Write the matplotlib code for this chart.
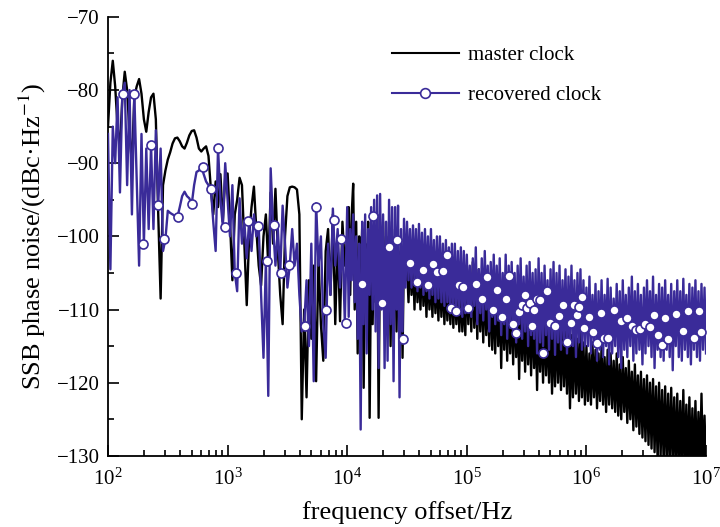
import matplotlib
matplotlib.use("Agg")
import numpy as np
from matplotlib import pyplot as plt
from matplotlib.lines import Line2D
from matplotlib.ticker import MultipleLocator

plt.rcParams["font.family"] = ["Liberation Serif", "DejaVu Serif"]
plt.rcParams["mathtext.fontset"] = "stix"

BLUE = "#3a2b99"

# SSB phase noise (dBc/Hz), one list per decade of offset
master_1e2 = [-85, -79, -76, -79.5, -85, -88, -81, -77.5, -80, -86,
              -90, -81, -79.5, -78.5, -80.5, -84, -85.7, -83, -81, -80.5,
              -84, -97, -108.5, -93, -91, -89.5, -88.5, -87.3, -86.6, -86.5,
              -87, -87.7, -88, -87.2, -86.2, -85.6, -85.5, -86.5, -88, -88.4,
              -88, -87.7, -89, -93.5, -97, -92.5, -96, -91.5, -98, -92]
master_1e3 = [-91.4, -98, -106, -97, -95, -92, -93, -101, -109.4, -100,
              -96, -93.2, -99, -104, -106.7, -100, -97, -104, -94, -101,
              -93.5, -102, -108, -112, -100, -94.5, -93.3, -93.2, -93.3, -93.6,
              -97, -125, -110, -122, -106, -114, -104, -119.8, -103, -112,
              -117, -102, -99, -108, -97, -112, -100, -111.6, -98, -104]
master_1e4 = [-100, -96, -108, -97, -92.8, -110, -98, -116, -100, -106,
              -99, -120.7, -101, -110, -98, -124.8, -102, -112, -100, -109,
              -97, -124.8, -99, -108, -98, -112, -100, -110, -98, -115,
              -100, -109, -99, -113, -101, -108, -102, -116.6, -101, -106,
              -104, -109, -102, -108, -103, -110, -102, -109, -104, -110,
              -103, -109.5, -104, -111, -103.5, -110, -105, -111, -104, -110.5,
              -105, -111.5, -104.5, -111, -105, -112, -105.5, -111.5, -106, -112,
              -106, -112.5, -106.5, -112, -107, -113, -107, -113, -107.5, -113.5]
master_1e5 = [-104, -112, -105, -113, -103.5, -112.5, -105.5, -114, -104.5, -113,
              -106, -114.5, -105, -113.5, -106.5, -115, -105.5, -115.5, -107, -116,
              -106, -115, -107.5, -118, -106.5, -115.5, -108, -117, -107, -116,
              -108.5, -117.5, -107.5, -116.5, -109, -119.5, -108, -117, -109.5, -118.5,
              -108.5, -117.5, -110, -119, -109, -118, -110.5, -121, -109.5, -118.5,
              -111, -120, -110, -119, -111.5, -120, -110.5, -121.5, -112, -120.5,
              -111, -120, -112.5, -121, -111.5, -120.5, -113, -121.5, -112, -123.5,
              -113.5, -122, -112.5, -121.5, -114, -122.5, -113, -122, -114.5, -123]
master_1e6 = [-115, -122.5, -116, -123, -114.5, -122, -115.5, -123.5, -116, -122.5,
              -115, -123, -116.5, -124, -115.5, -123, -116, -123.5, -117, -124,
              -116, -124.5, -117.5, -125, -116.5, -124, -118, -125.5, -117, -125,
              -118.5, -126.5, -117.5, -126, -119, -127, -118.5, -127.5, -119.5, -128,
              -119, -128.5, -120, -129, -119.5, -129.5, -120.5, -130.5, -120, -130,
              -121, -131, -120.5, -131, -121.5, -131.5, -120.7, -131, -122, -132,
              -121.5, -131.5, -122.5, -132, -121, -132, -123, -132, -122, -132,
              -123.5, -132, -122.5, -132, -124, -132, -121.5, -132, -124.5, -132]

recovered_1e2 = [-86, -104.5, -85, -90, -81, -94, -80.5, -79, -93, -80,
                 -97, -80.5, -92, -104, -86, -101, -88, -99, -87.5, -99,
                 -85.5, -95.7, -88, -102, -100.4, -96.5, -96.8, -97, -97.2, -97.4,
                 -96, -94.5, -93.9, -94.5, -94.8, -95.6, -93, -91.2, -91, -90.5,
                 -91.5, -92.5, -93, -93.5, -98, -102, -87.9, -95, -98.6, -90]
recovered_1e3 = [-95, -100, -93, -105, -107.5, -94.8, -101, -98, -103, -97.9,
                 -102, -97, -100, -98.6, -108, -116.6, -103.4, -121.8, -90.7, -98.5,
                 -104, -99, -105, -95.8, -101, -107, -103.9, -99, -104, -101,
                 -108, -113, -112.2, -106, -115, -101, -119.8, -95.5, -104, -100,
                 -112, -116.6, -101, -108, -96.2, -104, -99, -107, -100.3, -111.8]
recovered_1e4 = [-96, -111, -99, -106, -97, -109, -100, -114, -101, -126.4,
                 -98, -112, -97, -116, -99, -108, -96, -110, -95, -113,
                 -94.4, -118, -94.2, -110, -97, -118, -98, -117, -95, -112,
                 -96, -119.8, -96, -110, -95.8, -122, -99, -113, -97.6, -107,
                 -98, -106, -99, -107, -98.5, -106.5, -99, -107.5, -98.3, -107,
                 -99.5, -108, -99, -107.5, -100, -108.5, -99, -108, -100.5, -109,
                 -100, -108.5, -100, -109, -101, -109.5, -100.5, -109, -101.5, -110.5,
                 -101, -110, -101, -110.5, -102, -110, -101.5, -111, -102, -110.5]
recovered_1e5 = [-102.5, -110, -104, -111, -103, -109.5, -101.5, -112, -104.5, -110.5,
                 -103, -111.5, -102, -110, -104, -113, -103.5, -111, -102.5, -112,
                 -104, -111.5, -103, -113.5, -105, -112, -102.5, -114, -104, -112.5,
                 -103.5, -113, -105, -114.5, -104, -112, -103, -114, -105.5, -113,
                 -104, -115, -103.5, -113.5, -105, -114, -104.5, -116, -103, -114.5,
                 -105, -115, -104, -113.5, -106, -115.5, -104.5, -114, -103.5, -116.2,
                 -105, -114.5, -104, -115.5, -106, -114, -104.5, -116, -105.5, -114.5,
                 -104, -115, -106, -116.5, -105, -114.5, -104.5, -115.5, -106, -115]
recovered_1e6 = [-107, -115, -105.5, -116, -108, -114.5, -106.5, -117, -107.5, -115.5,
                 -106, -116.5, -108, -115, -105.8, -117.5, -107, -116, -108.5, -115,
                 -106.5, -116.5, -107.5, -118, -106, -115.5, -108, -116.5, -107, -115,
                 -105.5, -117, -107.5, -116, -106.5, -115.5, -108, -117.5, -107, -116,
                 -106, -115, -107.5, -116.5, -105.5, -118, -108, -115.5, -106.5, -116.5,
                 -107, -117, -106, -115.5, -108, -116.5, -106.5, -118.3, -107.5, -115,
                 -106, -116.5, -107.5, -117, -105.8, -115.5, -108, -116.5, -106.5, -117.5,
                 -107, -115.5, -106, -116.5, -107.5, -117, -106.5, -115.5, -107, -116]

# circle markers on the recovered clock trace: log10(offset/Hz), dBc/Hz
marker_logf = [2.123, 2.220, 2.295, 2.360, 2.421, 2.471, 2.588, 2.700, 2.792, 2.861,
               2.922, 2.978, 3.068, 3.173, 3.257, 3.327, 3.384, 3.444, 3.516, 3.647,
               3.742, 3.823, 3.892, 3.946, 3.994, 4.121, 4.213, 4.288, 4.352, 4.414,
               4.464, 4.525, 4.584, 4.631, 4.678, 4.715, 4.751, 4.797, 4.834, 4.868,
               4.910, 4.937, 4.972, 5.010, 5.077, 5.125, 5.171, 5.219, 5.255, 5.292,
               5.328, 5.355, 5.384, 5.411, 5.439, 5.459, 5.487, 5.503, 5.528, 5.543,
               5.564, 5.589, 5.612, 5.640, 5.668, 5.696, 5.737, 5.773, 5.807, 5.835,
               5.871, 5.896, 5.919, 5.941, 5.959, 5.980, 6.018, 6.058, 6.089, 6.118,
               6.147, 6.183, 6.231, 6.287, 6.337, 6.379, 6.415, 6.448, 6.490, 6.532,
               6.568, 6.599, 6.630, 6.657, 6.685, 6.752, 6.805, 6.852, 6.897, 6.939,
               6.956]
marker_db = [-80.5, -80.5, -101, -87.5, -95.7, -100.4, -97.4, -95.6, -90.5, -93.5,
             -87.9, -98.7, -105, -97.9, -98.6, -103.4, -98.5, -105, -103.9, -112.2,
             -96, -110, -97.7, -100.3, -111.8, -106.5, -97.2, -109.1, -101.4, -100.5,
             -114, -103.7, -106.3, -104.6, -106.7, -103.8, -104.9, -104.8, -102.5, -109.8,
             -110.2, -106.7, -106.9, -109.8, -106.5, -108.5, -105.6, -110, -107.3, -111,
             -108.5, -105.4, -112, -113.2, -110.3, -109.4, -108, -109.8, -109.1, -112.3,
             -110.1, -108.5, -108.7, -116, -107.5, -111.8, -112.3, -110.9, -109.4, -114.4,
             -111.9, -109.4, -110.7, -109.6, -108.3, -112.5, -111, -113.1, -114.6, -110.5,
             -113.9, -113.9, -110, -111.6, -111.1, -112.3, -112.8, -112.6, -112, -112.4,
             -110.7, -113.5, -114.9, -111.2, -114, -110.6, -113, -110.2, -113.9, -110.2,
             -113.1]

master_decades = [master_1e2, master_1e3, master_1e4, master_1e5, master_1e6]
recovered_decades = [recovered_1e2, recovered_1e3, recovered_1e4, recovered_1e5, recovered_1e6]


def sweep(decades):
    # instrument sweep: log spaced points inside each decade, 1e7 closes the last one
    freqs = [np.logspace(2 + k, 3 + k, len(d), endpoint=(k == len(decades) - 1))
             for k, d in enumerate(decades)]
    return np.concatenate(freqs), np.concatenate(decades)


fig = plt.figure(figsize=(7.2, 5.27), dpi=100)
ax = fig.add_axes([0.15, 0.135, 0.8306, 0.833])

f_master, db_master = sweep(master_decades)
f_rec, db_rec = sweep(recovered_decades)
ax.plot(f_master, db_master, color="black", lw=1.7, zorder=2)
ax.plot(f_rec, db_rec, color=BLUE, lw=1.7, zorder=3)
ax.plot(10 ** np.array(marker_logf), marker_db, "o", ls="none", ms=6.5,
        mfc="white", mec=BLUE, mew=1.2, zorder=4)

ax.set_xscale("log")
ax.set_xlim(1e2, 1e7)
ax.set_ylim(-130, -70)
ax.yaxis.set_major_locator(MultipleLocator(10))
ax.yaxis.set_minor_locator(MultipleLocator(5))

for side in ("top", "right"):
    ax.spines[side].set_visible(False)
for side in ("left", "bottom"):
    ax.spines[side].set_linewidth(1.3)
ax.tick_params(which="both", direction="in", width=1.2)
ax.tick_params(which="major", length=8)
ax.tick_params(which="minor", length=4.5)
ax.tick_params(axis="y", labelsize=15, pad=6)
ax.tick_params(axis="x", labelsize=15, pad=9)

ax.set_xlabel("frequency offset/Hz", fontsize=19, labelpad=8)
ax.set_ylabel("SSB phase noise/(dBc·Hz$^{-1}$)", fontsize=19, labelpad=6)

handles = [
    Line2D([], [], color="black", lw=1.5),
    Line2D([], [], color=BLUE, lw=1.5, marker="o", ms=7, mfc="white", mec=BLUE, mew=1.2),
]
ax.legend(handles, ["master clock", "recovered clock"], loc="upper left",
          bbox_to_anchor=(0.475, 0.935), frameon=False, fontsize=15,
          handlelength=3.2, handletextpad=0.45, labelspacing=1.0,
          borderpad=0, borderaxespad=0)

fig.savefig("out.png", dpi=100)
